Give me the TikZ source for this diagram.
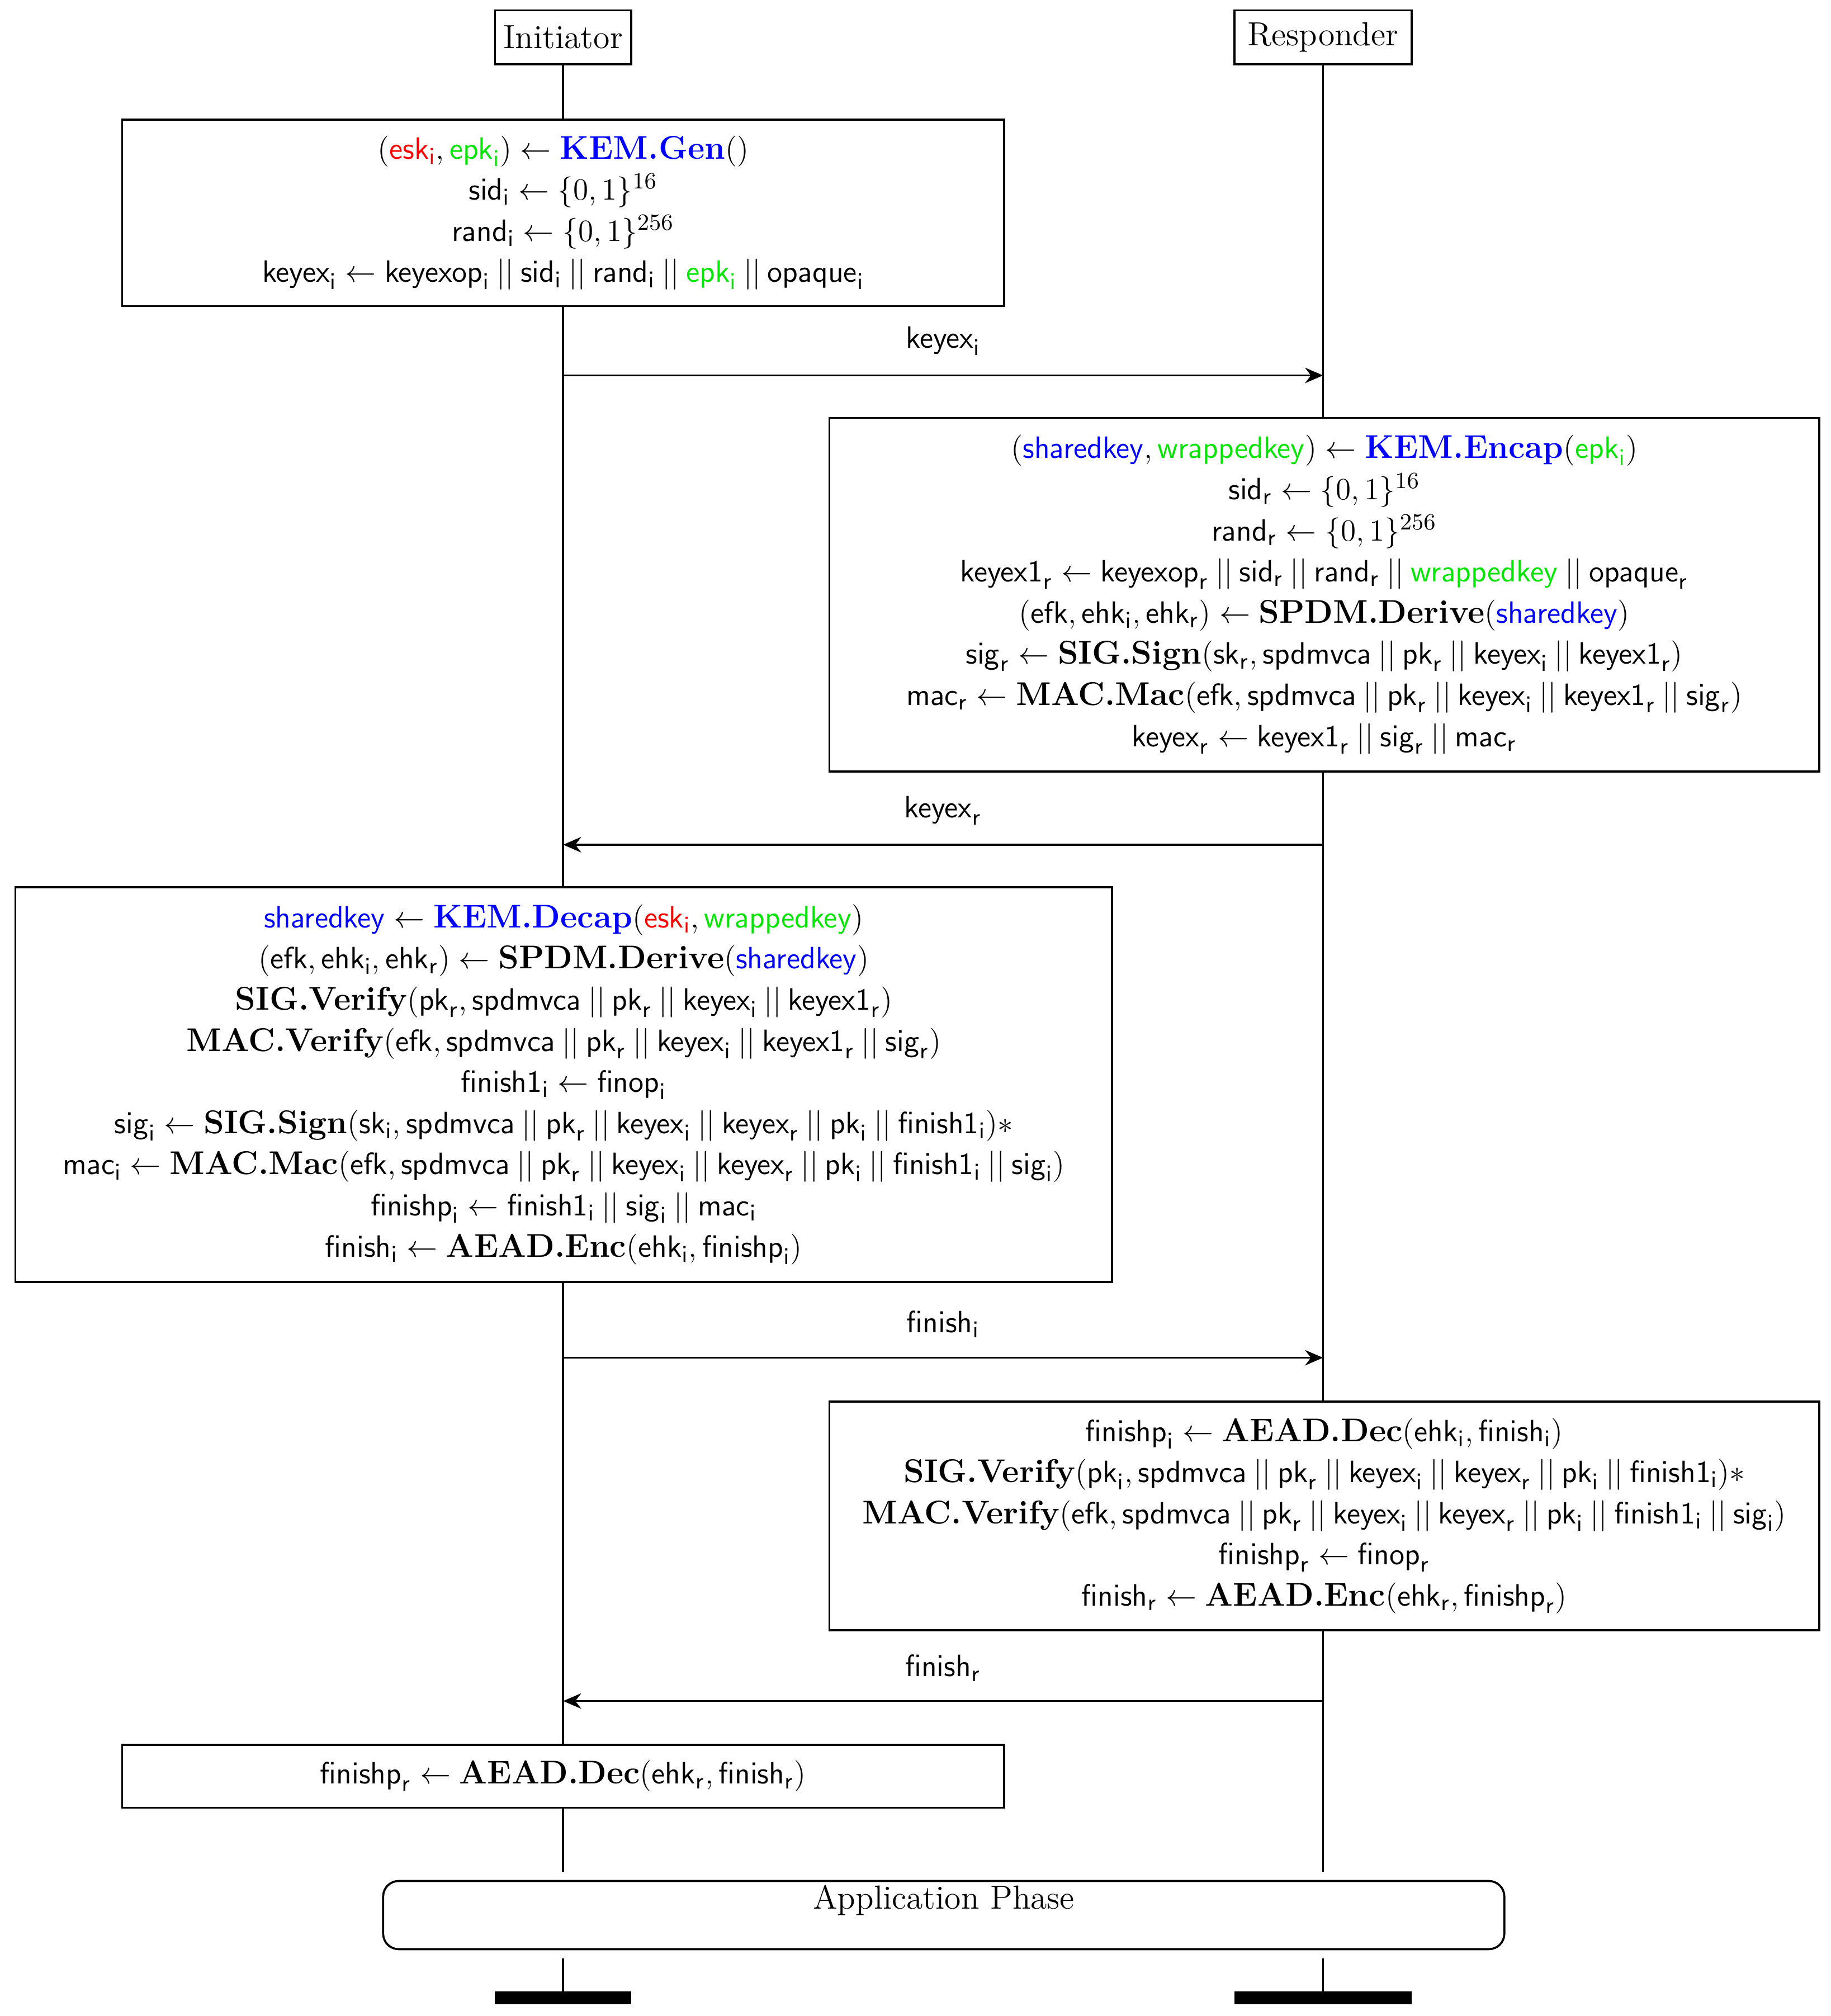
\documentclass[tikz,border=0pt]{standalone}
\usepackage{amsmath}
\usetikzlibrary{arrows.meta}
\definecolor{mygreen}{RGB}{0,230,0}
\newcommand\ms[1]{\mathsf{#1}}
\newcommand\Ii{_\mathsf{i}}
\newcommand\Rr{_\mathsf{r}}
\newcommand\bb[1]{\text{\textbf{#1}}}
\newcommand\cc{\mathbin{||}}
\tikzset{
 actor/.style={draw,thick,inner sep=3pt,font=\fontsize{13}{15}\selectfont},
 procbox/.style={draw,thick,fill=white,align=center,font=\fontsize{12.8}{16}\selectfont},
 life/.style={thick},
 msg/.style={thick,-{Stealth[length=7pt,width=6pt]}},
 msglabel/.style={font=\fontsize{12.8}{14}\selectfont}
}
\begin{document}
\begin{tikzpicture}[x=0.5pt,y=-0.5pt]
\useasboundingbox (0,0) rectangle (1424,1568);
\node[actor,minimum width=53pt,minimum height=21pt] (ini) at (438,29) {Initiator};
\node[actor,minimum width=69pt,minimum height=21pt] (res) at (1029,29) {Responder};
\coordinate (iend) at (438,1456); \coordinate (rend) at (1029,1456);
\coordinate (istart2) at (438,1523); \coordinate (rstart2) at (1029,1523);
\coordinate (ibar) at (438,1549); \coordinate (rbar) at (1029,1549);
\draw[life] (ini.south) -- (iend); \draw[life] (res.south) -- (rend);
\draw[life] (istart2) -- (ibar); \draw[life] (rstart2) -- (rbar);
\fill (385,1549) rectangle (491,1559);
\fill (960,1549) rectangle (1098,1559);

\node[procbox,minimum width=343pt,minimum height=72.5pt] (b1) at (438,165.5) {
$(\textcolor{red}{\ms{esk}\Ii},\textcolor{mygreen}{\ms{epk}\Ii})\leftarrow\textcolor{blue}{\bb{KEM.Gen}}()$\\
$\ms{sid}\Ii\leftarrow\{0,1\}^{16}$\\
$\ms{rand}\Ii\leftarrow\{0,1\}^{256}$\\
$\ms{keyex}\Ii\leftarrow\ms{keyexop}\Ii\cc\ms{sid}\Ii\cc\ms{rand}\Ii\cc\textcolor{mygreen}{\ms{epk}\Ii}\cc\ms{opaque}\Ii$};

\coordinate (a1i) at (438,292); \coordinate (a1r) at (1029,292);
\draw[msg] (a1i) -- node[msglabel,above=4pt]{$\ms{keyex}\Ii$} (a1r);

\node[procbox,minimum width=385pt,minimum height=137.5pt] (b2) at (1030,462.5) {
$(\textcolor{blue}{\ms{sharedkey}},\textcolor{mygreen}{\ms{wrappedkey}})\leftarrow\textcolor{blue}{\bb{KEM.Encap}}(\textcolor{mygreen}{\ms{epk}\Ii})$\\
$\ms{sid}\Rr\leftarrow\{0,1\}^{16}$\\
$\ms{rand}\Rr\leftarrow\{0,1\}^{256}$\\
$\ms{keyex1}\Rr\leftarrow\ms{keyexop}\Rr\cc\ms{sid}\Rr\cc\ms{rand}\Rr\cc\textcolor{mygreen}{\ms{wrappedkey}}\cc\ms{opaque}\Rr$\\
$(\ms{efk},\ms{ehk}\Ii,\ms{ehk}\Rr)\leftarrow\bb{SPDM.Derive}(\textcolor{blue}{\ms{sharedkey}})$\\
$\ms{sig}\Rr\leftarrow\bb{SIG.Sign}(\ms{sk}\Rr,\ms{spdmvca}\cc\ms{pk}\Rr\cc\ms{keyex}\Ii\cc\ms{keyex1}\Rr)$\\
$\ms{mac}\Rr\leftarrow\bb{MAC.Mac}(\ms{efk},\ms{spdmvca}\cc\ms{pk}\Rr\cc\ms{keyex}\Ii\cc\ms{keyex1}\Rr\cc\ms{sig}\Rr)$\\
$\ms{keyex}\Rr\leftarrow\ms{keyex1}\Rr\cc\ms{sig}\Rr\cc\ms{mac}\Rr$};

\coordinate (a2i) at (438,657); \coordinate (a2r) at (1029,657);
\draw[msg] (a2r) -- node[msglabel,above=4pt]{$\ms{keyex}\Rr$} (a2i);

\node[procbox,minimum width=426.5pt,minimum height=153.5pt] (b3) at (438.5,843.5) {
$\textcolor{blue}{\ms{sharedkey}}\leftarrow\textcolor{blue}{\bb{KEM.Decap}}(\textcolor{red}{\ms{esk}\Ii},\textcolor{mygreen}{\ms{wrappedkey}})$\\
$(\ms{efk},\ms{ehk}\Ii,\ms{ehk}\Rr)\leftarrow\bb{SPDM.Derive}(\textcolor{blue}{\ms{sharedkey}})$\\
$\bb{SIG.Verify}(\ms{pk}\Rr,\ms{spdmvca}\cc\ms{pk}\Rr\cc\ms{keyex}\Ii\cc\ms{keyex1}\Rr)$\\
$\bb{MAC.Verify}(\ms{efk},\ms{spdmvca}\cc\ms{pk}\Rr\cc\ms{keyex}\Ii\cc\ms{keyex1}\Rr\cc\ms{sig}\Rr)$\\
$\ms{finish1}\Ii\leftarrow\ms{finop}\Ii$\\
$\ms{sig}\Ii\leftarrow\bb{SIG.Sign}(\ms{sk}\Ii,\ms{spdmvca}\cc\ms{pk}\Rr\cc\ms{keyex}\Ii\cc\ms{keyex}\Rr\cc\ms{pk}\Ii\cc\ms{finish1}\Ii)*$\\
$\ms{mac}\Ii\leftarrow\bb{MAC.Mac}(\ms{efk},\ms{spdmvca}\cc\ms{pk}\Rr\cc\ms{keyex}\Ii\cc\ms{keyex}\Rr\cc\ms{pk}\Ii\cc\ms{finish1}\Ii\cc\ms{sig}\Ii)$\\
$\ms{finishp}\Ii\leftarrow\ms{finish1}\Ii\cc\ms{sig}\Ii\cc\ms{mac}\Ii$\\
$\ms{finish}\Ii\leftarrow\bb{AEAD.Enc}(\ms{ehk}\Ii,\ms{finishp}\Ii)$};

\coordinate (a3i) at (438,1056); \coordinate (a3r) at (1029,1056);
\draw[msg] (a3i) -- node[msglabel,above=4pt]{$\ms{finish}\Ii$} (a3r);

\node[procbox,minimum width=385pt,minimum height=89pt] (b4) at (1030,1179) {
$\ms{finishp}\Ii\leftarrow\bb{AEAD.Dec}(\ms{ehk}\Ii,\ms{finish}\Ii)$\\
$\bb{SIG.Verify}(\ms{pk}\Ii,\ms{spdmvca}\cc\ms{pk}\Rr\cc\ms{keyex}\Ii\cc\ms{keyex}\Rr\cc\ms{pk}\Ii\cc\ms{finish1}\Ii)*$\\
$\bb{MAC.Verify}(\ms{efk},\ms{spdmvca}\cc\ms{pk}\Rr\cc\ms{keyex}\Ii\cc\ms{keyex}\Rr\cc\ms{pk}\Ii\cc\ms{finish1}\Ii\cc\ms{sig}\Ii)$\\
$\ms{finishp}\Rr\leftarrow\ms{finop}\Rr$\\
$\ms{finish}\Rr\leftarrow\bb{AEAD.Enc}(\ms{ehk}\Rr,\ms{finishp}\Rr)$};

\coordinate (a4i) at (438,1323); \coordinate (a4r) at (1029,1323);
\draw[msg] (a4r) -- node[msglabel,above=4pt]{$\ms{finish}\Rr$} (a4i);

\node[procbox,minimum width=343pt,minimum height=24.5pt] (b5) at (438,1381.5) {
$\ms{finishp}\Rr\leftarrow\bb{AEAD.Dec}(\ms{ehk}\Rr,\ms{finish}\Rr)$};

\node[draw,thick,rounded corners=6pt,minimum width=436pt,minimum height=26.5pt] (app) at (734,1489.5) {};
\node[font=\fontsize{13}{15}\selectfont] (applabel) at (734,1478) {Application Phase};
\end{tikzpicture}
\end{document}
